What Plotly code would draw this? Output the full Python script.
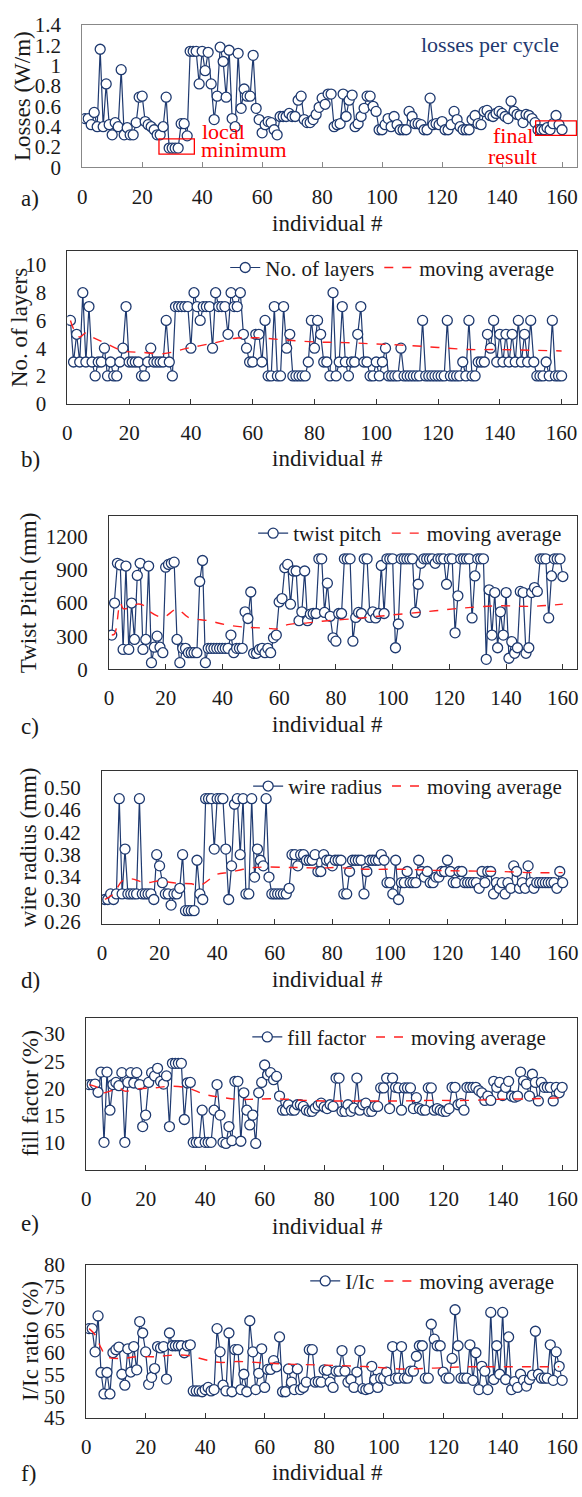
import plotly.graph_objects as go

W, H = 582, 1497
NAVY = "#1f3a70"
RED = "#ff2020"
FONT = "Liberation Serif"
TXT = "#1a1a1a"

individual = list(range(1, 161))

losses = [0.48,0.48,0.42,0.54,0.40,1.16,0.40,0.82,0.42,0.32,
          0.44,0.40,0.96,0.32,0.39,0.32,0.32,0.44,0.69,0.70,
          0.45,0.42,0.40,0.37,0.32,0.32,0.40,0.69,0.19,0.19,
          0.19,0.19,0.43,0.43,0.31,1.14,1.14,1.14,0.82,1.14,
          0.95,1.13,0.82,0.47,0.70,1.18,1.04,0.69,1.15,0.48,
          0.40,1.12,0.58,0.77,0.70,0.70,1.10,0.58,0.47,0.34,
          0.42,0.45,0.44,0.37,0.32,0.50,0.50,0.50,0.53,0.50,
          0.50,0.66,0.70,0.47,0.44,0.44,0.47,0.52,0.59,0.68,
          0.62,0.72,0.72,0.40,0.42,0.43,0.72,0.50,0.66,0.71,
          0.40,0.43,0.50,0.58,0.70,0.70,0.60,0.55,0.37,0.37,
          0.42,0.48,0.40,0.50,0.42,0.37,0.37,0.37,0.55,0.50,
          0.43,0.43,0.42,0.37,0.37,0.68,0.42,0.43,0.42,0.45,
          0.37,0.37,0.42,0.55,0.47,0.40,0.37,0.37,0.37,0.47,
          0.51,0.43,0.42,0.55,0.56,0.51,0.50,0.53,0.55,0.53,
          0.50,0.48,0.65,0.55,0.52,0.51,0.44,0.52,0.51,0.48,
          0.44,0.37,0.37,0.37,0.39,0.37,0.43,0.51,0.42,0.37]

layers = [6,3,5,3,8,3,7,3,2,3, 3,4,2,3,2,2,3,4,7,3,
          3,3,3,2,2,3,4,3,3,3, 3,6,3,2,7,7,7,7,7,4,
          8,7,6,7,7,7,4,8,7,7, 7,5,8,7,7,8,5,4,3,3,
          5,5,3,6,2,2,7,2,2,7, 4,5,2,2,2,2,2,3,6,4,
          6,5,3,3,2,8,2,3,7,3, 2,3,3,5,7,3,3,2,2,3,
          2,3,4,2,2,2,2,4,2,2, 2,2,2,2,6,2,2,2,2,2,
          2,2,6,2,2,2,2,3,2,6, 2,2,3,3,3,5,4,6,3,5,
          3,5,3,5,3,6,3,5,3,6, 3,2,2,2,3,2,6,2,2,2]
layers_ma_x = [1,2,4,6,8,12,18,24,31,39,48,54,61,70,80,90,100,110,120,130,140,150,160]
layers_ma = [6.0,5.4,4.8,5.1,4.8,4.4,3.8,3.7,3.6,4.0,4.4,4.7,4.75,4.6,4.45,4.4,4.3,4.2,4.05,3.9,3.9,3.85,3.8]

pitch = [310,600,960,945,180,935,180,600,270,850,
         960,180,270,935,60,200,300,200,150,925,
         950,960,970,270,60,190,190,150,150,150,
         150,795,985,60,190,190,190,190,190,190,
         190,190,310,150,190,190,190,520,460,700,
         145,145,180,190,150,190,150,285,310,610,
         640,920,950,590,890,890,440,520,890,440,
         500,505,505,1000,1000,515,780,480,285,255,
         505,505,1000,1000,1000,255,470,515,505,1000,
         1000,470,520,465,505,940,505,1000,1000,1000,
         195,410,1000,1000,1000,1000,1000,515,770,960,
         1000,1000,1000,1000,960,1000,1000,1000,770,1000,
         1000,330,665,1000,1000,1000,1000,465,845,1000,
         1000,1000,90,720,310,695,195,520,310,695,
         100,250,145,195,705,695,145,195,695,740,
         705,1000,1000,1000,465,845,1000,1000,1000,840]
pitch_ma_x = [1,2,4,5,7,10,12,14,19,24,28,35,42,49,56,59,63,70,77,85,95,105,115,125,137,149,160]
pitch_ma = [310,320,600,550,555,590,580,530,470,545,470,440,400,380,372,365,405,420,440,455,480,505,530,555,575,570,590]

radius = [.30,.30,.31,.30,.31,.48,.31,.39,.31,.31,
          .31,.31,.48,.31,.31,.31,.31,.30,.38,.36,
          .33,.31,.31,.29,.31,.31,.32,.38,.28,.28,
          .28,.28,.37,.31,.30,.48,.48,.48,.39,.48,
          .48,.48,.39,.30,.36,.47,.48,.38,.48,.31,
          .31,.48,.34,.39,.37,.36,.48,.34,.31,.31,
          .31,.31,.31,.31,.32,.38,.38,.36,.38,.38,
          .37,.37,.37,.38,.35,.35,.38,.37,.37,.36,
          .37,.37,.37,.31,.31,.35,.37,.37,.37,.37,
          .31,.35,.37,.37,.37,.37,.38,.37,.33,.33,
          .31,.37,.30,.33,.33,.35,.33,.33,.33,.37,
          .35,.34,.35,.33,.33,.34,.34,.35,.35,.37,
          .35,.33,.33,.35,.35,.33,.33,.33,.33,.33,
          .32,.35,.33,.35,.35,.31,.33,.32,.33,.31,
          .33,.32,.36,.35,.32,.33,.32,.36,.33,.32,
          .33,.33,.33,.33,.33,.33,.33,.32,.35,.33]
radius_ma_x = [1,4,7,10,15,20,26,31,34,40,44,49,53,58,65,69,76,81,92,104,115,126,138,149,160]
radius_ma = [.30,.31,.333,.337,.33,.333,.329,.328,.325,.345,.348,.354,.357,.358,.357,.357,.356,.357,.354,.354,.352,.351,.35,.348,.348]

fill = [20.7,20.7,20.8,19.3,23.0,10.1,23.0,16.0,20.7,21.1,
        20.5,22.9,10.1,21.1,22.9,21.0,22.9,20.7,13.0,15.1,
        21.1,22.9,22.3,23.7,21.3,20.8,22.3,13.0,24.6,24.6,
        24.6,24.6,14.3,21.0,21.1,10.1,10.1,10.1,16.0,10.1,
        10.1,10.1,16.0,20.7,15.1,10.1,9.9,13.0,10.4,21.3,
        21.3,10.3,19.2,16.0,13.3,15.1,9.9,19.2,21.1,24.3,
        22.5,22.9,21.6,22.2,18.6,16.0,16.0,17.0,16.0,16.0,
        17.0,17.0,16.7,16.0,15.8,15.8,16.4,16.9,17.3,16.6,
        16.3,17.0,16.7,21.9,21.9,15.8,15.8,17.0,15.8,16.4,
        21.9,16.0,17.0,17.3,15.8,15.8,16.7,16.7,20.1,20.1,
        21.9,16.3,21.9,20.2,20.1,16.0,20.1,20.1,20.1,16.3,
        18.3,16.3,16.0,16.0,20.1,20.1,16.0,16.3,16.0,15.8,
        15.8,16.3,20.2,20.2,17.0,17.2,16.0,20.2,20.2,20.2,
        20.2,19.6,19.2,17.8,18.6,17.8,21.3,20.2,21.1,18.7,
        20.2,21.3,18.6,18.4,18.6,23.0,21.4,20.8,18.6,22.6,
        21.1,17.7,21.1,20.2,20.2,20.2,17.7,20.2,19.2,20.2]
fill_ma_x = [1,4,5,8,11,13,17,23,28,34,40,45,51,56,62,68,73,80,84,95,106,117,128,139,150,160]
fill_ma = [20.7,20.1,19.2,19.5,20.1,19.5,19.9,20.1,20.4,20.1,18.9,18.4,18.0,18.0,18.1,18.0,17.8,17.7,17.7,17.7,17.7,17.8,17.8,18.0,18.1,18.3]

iic = [65.4,65.4,60.1,68.3,55.4,50.5,55.4,50.5,59.9,60.6,
       61.2,55.0,52.5,60.8,55.5,61.3,56.0,67.0,64.4,60.1,
       52.7,54.3,56.3,61.3,61.0,61.3,53.9,64.4,61.5,61.5,
       61.5,61.5,59.9,61.5,61.7,51.2,51.2,51.2,51.0,51.5,
       52.0,51.2,51.5,65.4,60.1,52.5,51.2,64.4,51.0,60.6,
       60.6,51.5,55.0,51.0,67.2,60.1,51.5,55.2,60.8,52.0,
       56.1,56.1,58.1,56.7,63.5,51.0,51.0,56.2,53.2,51.5,
       56.2,51.5,52.0,53.2,60.6,60.6,53.2,53.3,53.2,56.0,
       55.9,53.2,52.0,55.7,55.7,60.4,55.7,53.2,53.8,52.0,
       55.5,60.4,51.7,51.5,51.7,56.8,53.8,52.0,54.1,54.1,
       55.5,53.6,61.3,54.1,54.1,61.3,54.1,54.1,55.7,55.7,
       59.1,61.5,61.5,54.1,54.1,66.4,63.0,61.5,61.5,55.5,
       54.1,54.1,58.6,69.7,61.5,54.1,54.1,54.1,61.7,53.6,
       59.9,51.5,56.8,55.7,51.5,69.1,53.8,61.5,55.0,69.1,
       53.8,63.5,51.5,53.3,52.0,55.0,53.6,52.3,53.8,54.8,
       64.8,55.0,54.1,54.1,54.1,61.7,53.6,60.1,56.8,53.6]
iic_ma_x = [1,3,5,7,12,17,23,28,34,40,45,51,57,62,68,73,84,95,106,117,128,139,150,159]
iic_ma = [65.4,64,61,59,58.6,59,59,59.3,59.3,58.3,57.7,57.9,57.7,57.5,57.3,57.2,57,56.7,56.2,56.4,56.7,56.7,56.7,56.7]

xticks = [0, 20, 40, 60, 80, 100, 120, 140, 160]


def fy(p):
    return 1 - p / H


def fx(p):
    return p / W


panels = [
    dict(y=losses, ma=None, name=None, ytitle="Losses (W/m)", xl=78, top=13, bot=158,
         yr=[0, 1.4], ytv=[0, 0.2, 0.4, 0.6, 0.8, 1, 1.2, 1.4], ytt=["0", "0.2", "0.4", "0.6", "0.8", "1", "1.2", "1.4"],
         letter="a)", ly=190, tty=215, ytx=17, leg=None, frame="#888888"),
    dict(y=layers, ma=(layers_ma_x, layers_ma), name="No. of layers", ytitle="No. of layers", xl=63, top=243, bot=398,
         yr=[0, 11], ytv=[0, 2, 4, 6, 8, 10], ytt=None,
         letter="b)", ly=455, tty=454, ytx=15, leg=(560, 260), frame="#333333"),
    dict(y=pitch, ma=(pitch_ma_x, pitch_ma), name="twist pitch", ytitle="Twist Pitch (mm)", xl=105, top=512, bot=668,
         yr=[0, 1390], ytv=[0, 300, 600, 900, 1200], ytt=None,
         letter="c)", ly=726, tty=724, ytx=24, leg=(568, 530), frame="#333333"),
    dict(y=radius, ma=(radius_ma_x, radius_ma), name="wire radius", ytitle="wire radius (mm)", xl=98, top=771, bot=927,
         yr=[0.256, 0.53], ytv=[0.26, 0.30, 0.34, 0.38, 0.42, 0.46, 0.50],
         ytt=["0.26", "0.30", "0.34", "0.38", "0.42", "0.46", "0.50"],
         letter="d)", ly=984, tty=983, ytx=24, leg=(568, 787), frame="#333333"),
    dict(y=fill, ma=(fill_ma_x, fill_ma), name="fill factor", ytitle="fill factor (%)", xl=82, top=1022, bot=1177,
         yr=[5, 33], ytv=[10, 15, 20, 25, 30], ytt=None,
         letter="e)", ly=1231, tty=1234, ytx=26, leg=(552, 1042), frame="#333333"),
    dict(y=iic, ma=(iic_ma_x, iic_ma), name="I/Ic", ytitle="I/Ic ratio (%)", xl=82, top=1273, bot=1429,
         yr=[45, 80], ytv=[45, 50, 55, 60, 65, 70, 75, 80], ytt=None,
         letter="f)", ly=1485, tty=1484, ytx=26, leg=(560, 1290), frame="#333333"),
]

fig = go.Figure()
annotations = []
layout = dict(width=W, height=H, margin=dict(l=0, r=0, t=0, b=0),
              paper_bgcolor="white", plot_bgcolor="white", showlegend=True,
              font=dict(family=FONT, size=20, color=TXT))

for k, p in enumerate(panels):
    n = k + 1
    xa = "xaxis" if n == 1 else f"xaxis{n}"
    ya = "yaxis" if n == 1 else f"yaxis{n}"
    xr = "x" if n == 1 else f"x{n}"
    yr = "y" if n == 1 else f"y{n}"
    legname = None
    if p["leg"] is not None:
        legname = "legend" if k == 1 else f"legend{k}"
    fig.add_trace(go.Scatter(
        x=individual, y=p["y"], xaxis=xr, yaxis=yr, mode="lines+markers",
        name=p["name"] or "losses", showlegend=p["leg"] is not None,
        legend=legname,
        line=dict(color=NAVY, width=1.2),
        marker=dict(symbol="circle", size=10, color="white", line=dict(color=NAVY, width=1.3)),
    ))
    if p["ma"] is not None:
        fig.add_trace(go.Scatter(
            x=p["ma"][0], y=p["ma"][1], xaxis=xr, yaxis=yr, mode="lines",
            name="moving average", legend=legname, line_shape="spline",
            line=dict(color=RED, width=1.4, dash="dash"),
        ))
    layout[xa] = dict(domain=[fx(p["xl"]), fx(578)], range=[0, 165], anchor=yr,
                      tickvals=xticks, ticks="inside", ticklen=5, tickcolor=p["frame"],
                      showline=True, mirror=True, linecolor=p["frame"], linewidth=1,
                      showgrid=False, zeroline=False, ticklabelstandoff=10,
                      tickfont=dict(family=FONT, size=21, color=TXT))
    yd = dict(domain=[fy(p["bot"]), fy(p["top"])], range=p["yr"], anchor=xr,
              tickvals=p["ytv"], ticks="", showline=True, mirror=True,
              linecolor=p["frame"], linewidth=1, showgrid=False, zeroline=False,
              ticklabelstandoff=16, tickfont=dict(family=FONT, size=21, color=TXT))
    if p["ytt"] is not None:
        yd["ticktext"] = p["ytt"]
    layout[ya] = yd
    if p["leg"] is not None:
        layout[legname] = dict(orientation="h", xanchor="right", yanchor="middle",
                               x=fx(p["leg"][0]), y=fy(p["leg"][1]),
                               bgcolor="rgba(0,0,0,0)", itemwidth=30,
                               font=dict(family=FONT, size=21, color=TXT),
                               tracegroupgap=0)
    annotations.append(dict(text=p["ytitle"], textangle=-90, x=fx(p["ytx"]),
                            y=fy((p["top"] + p["bot"]) / 2), xref="paper", yref="paper",
                            showarrow=False, xanchor="center", yanchor="middle",
                            font=dict(family=FONT, size=23, color=TXT)))
    annotations.append(dict(text="individual #", x=fx(326), y=fy(p["tty"]), xref="paper", yref="paper",
                            showarrow=False, xanchor="center", yanchor="middle",
                            font=dict(family=FONT, size=23, color=TXT)))
    annotations.append(dict(text=p["letter"], x=fx(14), y=fy(p["ly"]), xref="paper", yref="paper",
                            showarrow=False, xanchor="left", yanchor="middle",
                            font=dict(family=FONT, size=23, color=TXT)))

annotations.append(dict(text="losses per cycle", x=fx(490), y=fy(33), xref="paper", yref="paper",
                        showarrow=False, xanchor="center", yanchor="middle",
                        font=dict(family=FONT, size=22, color=NAVY)))
for txt, xx, yy, anc in [("local", 197, 121, "left"), ("minimum", 196, 140, "left"),
                         ("final", 513, 126, "center"), ("result", 513, 147, "center")]:
    annotations.append(dict(text=txt, x=fx(xx), y=fy(yy), xref="paper", yref="paper",
                            showarrow=False, xanchor=anc, yanchor="middle",
                            font=dict(family=FONT, size=22, color="#ff0000")))

shapes = [
    dict(type="rect", xref="x", yref="y", x0=25.6, x1=37.4, y0=0.13, y1=0.28,
         line=dict(color="#ff0000", width=1.3)),
    dict(type="rect", xref="x", yref="y", x0=151.2, x1=164.8, y0=0.315, y1=0.457,
         line=dict(color="#ff0000", width=1.3)),
]

layout["annotations"] = annotations
layout["shapes"] = shapes
fig.update_layout(**layout)
fig.write_html(
    "out.html",
    config={"displayModeBar": False},
    post_script="document.body.style.margin='0';document.body.style.padding='0';"
                "document.body.style.overflow='hidden';",
)
